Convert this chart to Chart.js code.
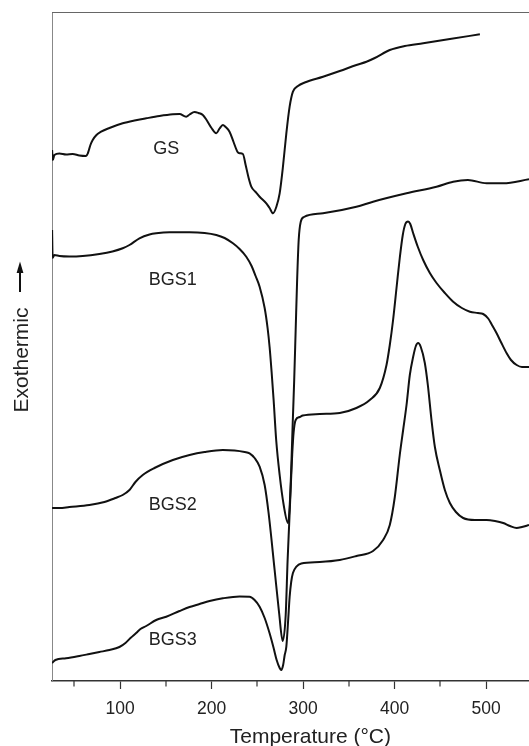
<!DOCTYPE html>
<html>
<head>
<meta charset="utf-8">
<script src="https://cdn.jsdelivr.net/npm/chart.js@4.4.1/dist/chart.umd.min.js"></script>
<style>
  html, body { margin: 0; padding: 0; background: #fff; }
  canvas { display: block; }
</style>
</head>
<body>
<canvas id="dscChart" width="529" height="746"></canvas>
<script>
// DSC traces: temperature (°C) vs heat flow (arbitrary units, curves offset)
const gsTemp = [25.6, 26.4, 28.1, 33.6, 40.9, 48.1, 55.4, 62.8, 64.8, 67.5, 70.0, 74.1, 79.2, 88.3, 102.8, 115.7, 128.5, 143.0, 157.6, 164.9, 172.2, 175.9, 181.3, 185.7, 190.4, 194.5, 199.9, 205.1, 208.7, 212.3, 215.3, 219.6, 224.0, 228.4, 230.6, 234.2, 237.2, 240.5, 243.4, 248.1, 252.5, 259.8, 263.4, 267.1, 270.8, 274.4, 278.0, 281.7, 285.3, 288.9, 294.4, 301.8, 321.8, 340.1, 358.3, 369.3, 378.4, 394.8, 411.2, 431.3, 460.5, 493.3];
const gsFlow = [531, 521, 526, 527.5, 526.5, 527, 525.5, 525, 528, 536, 541, 546, 549.3, 553, 557.7, 560.5, 562.7, 565, 566.7, 567, 564.3, 566.5, 569, 568, 566, 561, 553, 547.7, 552.5, 556, 554, 549.3, 539, 529, 527.7, 527, 516, 503, 494.3, 489, 484.3, 477.7, 473, 467.7, 474.3, 487.7, 514.3, 547.7, 574.3, 589.3, 595, 598.5, 604.3, 610, 616, 619.3, 623, 631, 635, 637.7, 642, 646.7];

const bgs1Temp = [25.6, 26.2, 28.1, 33.6, 44.5, 59.1, 77.3, 91.6, 102.8, 110.2, 121.1, 132.1, 139.4, 154.0, 175.9, 192.3, 205.1, 214.2, 223.3, 230.6, 237.9, 243.7, 248.1, 252.5, 258.0, 261.2, 263.4, 265.6, 267.8, 270.6, 274.4, 278.8, 283.5, 285.3, 287.0, 288.6, 290.3, 291.9, 293.5, 295.2, 297.4, 301.0, 321.8, 358.3, 376.5, 413.1, 445.9, 464.1, 480.2, 500.7, 518.8, 547.0];
const bgs1Flow = [451, 423, 426, 425, 424.5, 425, 427, 429.5, 432.7, 436, 442.7, 446.5, 447.7, 448.7, 448.7, 448, 446, 443, 437.7, 432, 424.3, 415, 405, 394.3, 373, 353, 334, 309, 281, 241, 206, 176, 158, 174, 211, 256, 301, 351, 401, 441, 459, 464, 467.7, 474.3, 479.3, 487.7, 494.3, 499.3, 501, 497.7, 497.7, 501.7];

const bgs2Temp = [25.6, 33.6, 44.5, 66.4, 82.8, 94.9, 102.8, 110.2, 116.7, 124.7, 137.5, 157.6, 175.9, 192.3, 212.3, 225.1, 236.1, 241.5, 247.0, 252.5, 258.0, 262.3, 268.9, 273.8, 277.7, 281.0, 283.1, 284.8, 286.4, 288.1, 289.7, 291.9, 296.3, 299.6, 318.2, 340.1, 358.3, 372.9, 383.9, 391.2, 394.8, 398.4, 402.5, 405.7, 409.0, 411.8, 414.8, 417.2, 420.3, 425.5, 431.3, 438.6, 445.9, 455.0, 464.1, 473.6, 482.4, 491.1, 496.9, 502.4, 506.5, 511.6, 516.3, 522.6, 527.3, 533.5, 539.3, 547.0];
const bgs2Flow = [173, 173, 174, 176, 179, 183, 186, 191, 199, 206, 213, 221, 226, 229, 231, 230.5, 229, 227.7, 223, 214.3, 196, 168, 111, 68, 40, 66, 121, 157, 191, 226, 249, 261, 264, 265.5, 267, 268, 273, 281, 293, 316, 336, 361, 396, 423, 446, 457, 459.5, 457, 448, 434, 421, 408, 398, 388, 379.3, 373, 369.3, 368, 367, 362.5, 356, 347.7, 339, 327.7, 321, 316, 314, 314];

const bgs3Temp = [25.6, 29.2, 40.9, 55.4, 66.4, 77.3, 88.3, 99.2, 105.8, 111.3, 117.5, 122.2, 128.5, 139.4, 150.4, 164.9, 175.9, 186.8, 197.8, 212.3, 230.6, 241.5, 247.0, 252.5, 258.0, 263.4, 267.8, 271.1, 274.4, 276.2, 278.2, 279.9, 281.7, 283.7, 285.3, 287.0, 288.9, 292.7, 298.1, 318.2, 340.1, 358.3, 376.5, 387.5, 394.8, 400.3, 405.7, 409.4, 413.1, 416.7, 420.3, 423.3, 425.8, 428.7, 433.1, 436.4, 440.4, 444.1, 449.5, 455.0, 460.5, 467.1, 475.0, 487.9, 500.7, 509.8, 518.8, 526.2, 533.5, 539.3, 547.0];
const bgs3Flow = [18, 21, 22.7, 25, 27, 29, 31, 34, 38, 43, 48, 52, 55, 61, 64.3, 70, 74, 77, 80, 82.7, 84.5, 84.3, 81, 74.3, 63, 47.7, 33, 21, 13, 11, 16, 26, 34.3, 61, 84, 99, 108, 114.3, 117.5, 119, 121, 125, 130, 141, 156, 184, 226, 251, 276, 306, 324, 335, 338, 334, 318, 296, 261, 234, 211, 191, 178, 169, 163, 161, 161, 160, 158, 155, 153, 154, 156];

const curveNames = ['GS', 'BGS1', 'BGS2', 'BGS3'];
const xTicks = [100, 200, 300, 400, 500];
const xMinorTicks = [50, 150, 250, 350, 450];
const xTitle = 'Temperature (°C)';
const yTitle = 'Exothermic';

const FONT = '"Liberation Sans", Arial, Helvetica, sans-serif';

function toPoints(temps, flows) {
    return temps.map((t, i) => ({ x: t, y: flows[i] }));
}

const series = [
    toPoints(gsTemp, gsFlow),
    toPoints(bgs1Temp, bgs1Flow),
    toPoints(bgs2Temp, bgs2Flow),
    toPoints(bgs3Temp, bgs3Flow)
];

// frame top, minor ticks, tick labels, titles, curve names and the arrow
const annotate = {
    id: 'annotate',
    afterDraw(chart) {
        const { ctx, chartArea: a, scales: { x, y } } = chart;
        ctx.save();

        ctx.strokeStyle = '#666';
        ctx.lineWidth = 1;
        ctx.beginPath();
        ctx.moveTo(a.left, a.top + 0.5);
        ctx.lineTo(a.right, a.top + 0.5);
        ctx.stroke();

        ctx.strokeStyle = '#333';
        ctx.lineWidth = 1.2;
        xMinorTicks.forEach(v => {
            const px = Math.round(x.getPixelForValue(v));
            ctx.beginPath();
            ctx.moveTo(px, a.bottom);
            ctx.lineTo(px, a.bottom + 5.5);
            ctx.stroke();
        });

        ctx.fillStyle = '#222';
        ctx.textAlign = 'center';
        ctx.textBaseline = 'alphabetic';

        ctx.font = '17.5px ' + FONT;
        xTicks.forEach(v => ctx.fillText(String(v), x.getPixelForValue(v), a.bottom + 33));

        // axis title sits off-centre because the original frame is cropped on the right
        ctx.font = '21px ' + FONT;
        ctx.fillText(xTitle, x.getPixelForValue(308), a.bottom + 61.5);

        // label anchors in data units (temperature, flow)
        const anchors = [[150.4, 534], [157.6, 403], [157.6, 178], [157.6, 43]];
        ctx.font = '18px ' + FONT;
        curveNames.forEach((name, i) => {
            ctx.fillText(name, x.getPixelForValue(anchors[i][0]), y.getPixelForValue(anchors[i][1]) + 6.5);
        });

        ctx.save();
        ctx.translate(27.5, 360);
        ctx.rotate(-Math.PI / 2);
        ctx.font = '21px ' + FONT;
        ctx.fillText(yTitle, 0, 0);
        ctx.restore();

        ctx.strokeStyle = '#111';
        ctx.lineWidth = 2;
        ctx.beginPath();
        ctx.moveTo(20, 292);
        ctx.lineTo(20, 270);
        ctx.stroke();
        ctx.fillStyle = '#111';
        ctx.beginPath();
        ctx.moveTo(20, 261.5);
        ctx.lineTo(16.6, 273);
        ctx.lineTo(23.4, 273);
        ctx.closePath();
        ctx.fill();

        ctx.restore();
    }
};

const ctx = document.getElementById('dscChart').getContext('2d');
new Chart(ctx, {
    type: 'line',
    data: {
        datasets: curveNames.map((name, i) => ({
            label: name,
            data: series[i],
            borderColor: '#111',
            borderWidth: 2,
            pointRadius: 0,
            fill: false,
            cubicInterpolationMode: 'monotone'
        }))
    },
    options: {
        responsive: false,
        animation: false,
        layout: { padding: { left: 52, top: 12, right: 0, bottom: 57 } },
        plugins: {
            legend: { display: false },
            tooltip: { enabled: false }
        },
        scales: {
            x: {
                type: 'linear',
                min: 25.5,
                max: 547,
                afterBuildTicks: scale => {
                    scale.ticks = xTicks.map(v => ({ value: v }));
                },
                grid: {
                    display: true,
                    drawOnChartArea: false,
                    drawTicks: true,
                    tickLength: 8,
                    tickColor: '#333',
                    tickWidth: 1.2
                },
                border: { display: true, color: '#333', width: 1.5 },
                ticks: { display: false }
            },
            y: {
                type: 'linear',
                min: 0,
                max: 669,
                ticks: { display: false },
                grid: { display: false, drawTicks: false },
                border: { display: true, color: '#888', width: 1 }
            }
        }
    },
    plugins: [annotate]
});
</script>
</body>
</html>
